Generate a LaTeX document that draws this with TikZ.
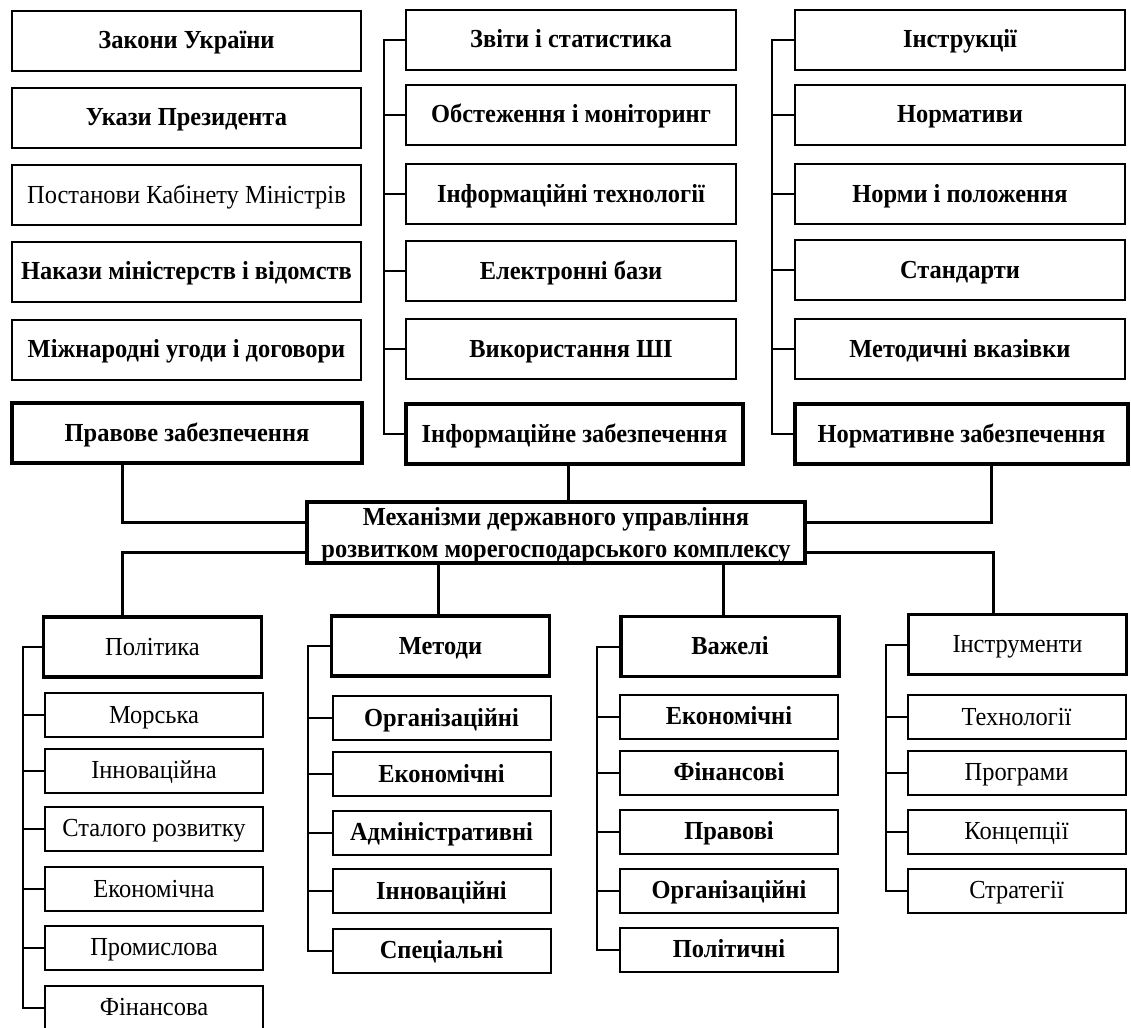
\documentclass[tikz,border=0pt]{standalone}
\usepackage{fontspec}
\setmainfont{Liberation Serif}[FakeStretch=0.94]
\begin{document}
\begin{tikzpicture}[x=1pt,y=-1pt,
  frame/.style={draw, inner sep=0pt, outer sep=0pt, line width=2pt, text=black},
  base/.style={frame, text height=18pt, text depth=2pt,
               font=\fontsize{26}{31}\selectfont},
  bfb/.style={base, font=\fontsize{26}{31}\selectfont\bfseries},
  heavy/.style={line width=3.5pt},
  top/.style={minimum height=60pt},
  tl/.style={top, minimum width=349pt},
  tm/.style={top, minimum width=330pt},
  tr/.style={top, minimum width=330pt},
  sub/.style={minimum height=44pt, minimum width=218pt},
  hdr/.style={heavy, minimum height=60pt, minimum width=218pt},
  conn/.style={line width=3pt},
  brk/.style={line width=2pt}]
\useasboundingbox (0,0) rectangle (1131,1027);

% ---- top left column
\node[bfb, tl]  (zak)  at (186.5,41)  {Закони України};
\node[bfb, tl]  (uk)   at (186.5,118) {Укази Президента};
\node[base, tl] (post) at (186.5,195) {Постанови Кабінету Міністрів};
\node[bfb, tl]  (nak)  at (186.5,271.5) {Накази міністерств і відомств};
\node[bfb, tl]  (mizh) at (186.5,349.5) {Міжнародні угоди і договори};
\node[bfb, top, heavy, minimum width=350pt] (prav) at (187,433) {Правове забезпечення};

% ---- top middle column
\node[bfb, tm] (zvit)  at (571,40)  {Звіти і статистика};
\node[bfb, tm] (obst)  at (571,115) {Обстеження і моніторинг};
\node[bfb, tm] (inft)  at (571,194) {Інформаційні технології};
\node[bfb, tm] (elb)   at (571,271) {Електронні бази};
\node[bfb, tm] (vykor) at (571,349) {Використання ШІ};
\node[bfb, top, heavy, minimum width=337pt] (infz) at (574.5,434) {Інформаційне забезпечення};

% ---- top right column
\node[bfb, tr] (instr) at (960,40)  {Інструкції};
\node[bfb, tr] (normv) at (960,115) {Нормативи};
\node[bfb, tr] (norm)  at (960,194) {Норми і положення};
\node[bfb, tr] (stand) at (960,270) {Стандарти};
\node[bfb, tr] (metv)  at (960,349) {Методичні вказівки};
\node[bfb, top, heavy, minimum width=333pt] (normz) at (961.5,434) {Нормативне забезпечення};

% ---- central box
\node[frame, heavy, minimum width=498pt, minimum height=61pt, align=center,
      text depth=0pt, font=\fontsize{26}{32}\selectfont\bfseries] (cen) at (556,532.5)
  {Механізми державного управління\\розвитком морегосподарського комплексу};

% ---- bottom headers
\node[base, hdr] (pol) at (152.5,647)  {Політика};
\node[bfb, hdr]  (met) at (440.5,646)  {Методи};
\node[bfb, hdr]  (vaz) at (730,646.5)  {Важелі};
\node[base, hdr] (ins) at (1017.5,644.5) {Інструменти};

% ---- Політика items
\node[base, sub] (p1) at (154,715)    {Морська};
\node[base, sub] (p2) at (154,770.5)  {Інноваційна};
\node[base, sub] (p3) at (154,828.5)  {Сталого розвитку};
\node[base, sub] (p4) at (154,889)    {Економічна};
\node[base, sub] (p5) at (154,947.5)  {Промислова};
\node[base, sub] (p6) at (154,1007.5) {Фінансова};

% ---- Методи items
\node[bfb, sub] (m1) at (441.5,718)   {Організаційні};
\node[bfb, sub] (m2) at (441.5,774)   {Економічні};
\node[bfb, sub] (m3) at (441.5,832.5) {Адміністративні};
\node[bfb, sub] (m4) at (441.5,891)   {Інноваційні};
\node[bfb, sub] (m5) at (441.5,950.5) {Спеціальні};

% ---- Важелі items
\node[bfb, sub] (v1) at (729,716.5) {Економічні};
\node[bfb, sub] (v2) at (729,772.5) {Фінансові};
\node[bfb, sub] (v3) at (729,831.5) {Правові};
\node[bfb, sub] (v4) at (729,890.5) {Організаційні};
\node[bfb, sub] (v5) at (729,949.5) {Політичні};

% ---- Інструменти items
\node[base, sub] (i1) at (1016.5,717)   {Технології};
\node[base, sub] (i2) at (1016.5,772.5) {Програми};
\node[base, sub] (i3) at (1016.5,831.5) {Концепції};
\node[base, sub] (i4) at (1016.5,890.5) {Стратегії};

% ---- main connectors
\coordinate (cL) at (122,522);
\coordinate (cM) at (568,480);
\coordinate (cR) at (991,522);
\coordinate (bL) at (122,552);
\coordinate (bM) at (438,590);
\coordinate (bV) at (723,590);
\coordinate (bR) at (993,552);
\draw[conn] (prav.south -| cL) |- (cen.west |- cL);
\draw[conn] (infz.south -| cM) -- (cen.north -| cM);
\draw[conn] (normz.south -| cR) |- (cen.east |- cR);
\draw[conn] (cen.west |- bL) -| (pol.north -| bL);
\draw[conn] (cen.south -| bM) -- (met.north -| bM);
\draw[conn] (cen.south -| bV) -- (vaz.north -| bV);
\draw[conn] (cen.east |- bR) -| (ins.north -| bR);

% ---- brackets
\coordinate (kM) at (384,0);
\draw[brk] (zvit.west) -- (zvit.west -| kM) -- (infz.west -| kM) -- (infz.west);
\foreach \n in {obst,inft,elb,vykor} \draw[brk] (\n.west -| kM) -- (\n.west);

\coordinate (kR) at (772,0);
\draw[brk] (instr.west) -- (instr.west -| kR) -- (normz.west -| kR) -- (normz.west);
\foreach \n in {normv,norm,stand,metv} \draw[brk] (\n.west -| kR) -- (\n.west);

\coordinate (kP) at (23,0);
\draw[brk] (pol.west) -- (pol.west -| kP) -- (p6.west -| kP) -- (p6.west);
\foreach \n in {p1,p2,p3,p4,p5} \draw[brk] (\n.west -| kP) -- (\n.west);

\coordinate (kMe) at (308,0);
\draw[brk] (met.west) -- (met.west -| kMe) -- (m5.west -| kMe) -- (m5.west);
\foreach \n in {m1,m2,m3,m4} \draw[brk] (\n.west -| kMe) -- (\n.west);

\coordinate (kV) at (597,0);
\draw[brk] (vaz.west) -- (vaz.west -| kV) -- (v5.west -| kV) -- (v5.west);
\foreach \n in {v1,v2,v3,v4} \draw[brk] (\n.west -| kV) -- (\n.west);

\coordinate (kI) at (886,0);
\draw[brk] (ins.west) -- (ins.west -| kI) -- (i4.west -| kI) -- (i4.west);
\foreach \n in {i1,i2,i3} \draw[brk] (\n.west -| kI) -- (\n.west);
\end{tikzpicture}
\end{document}
